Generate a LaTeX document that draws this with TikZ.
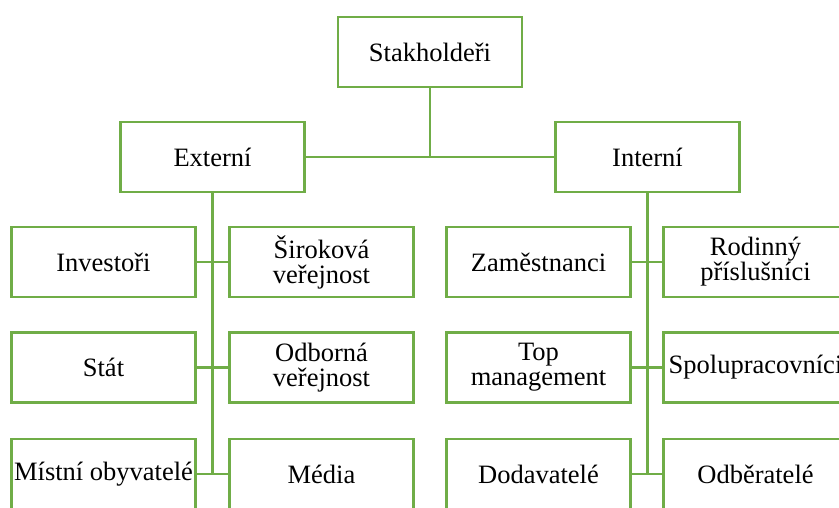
\documentclass[tikz,border=0pt]{standalone}
\usepackage{fontspec}
\setmainfont{Liberation Serif}
\usepackage{xcolor}
\definecolor{stakegreen}{RGB}{112,173,71}

\begin{document}
\begin{tikzpicture}[x=1pt,y=-1pt,
    box/.style={draw=stakegreen,fill=white,line width=2.8pt,minimum width=184pt,minimum height=70pt,
        inner sep=0pt,align=center,font=\fontsize{26.5}{25}\selectfont},
    link/.style={stakegreen,line width=2.6pt}]
    \clip (0,0) rectangle (839,507);

    \node[box] (stak) at (430,52) {Stakholdeři};
    \node[box] (ext) at (212.5,157) {Externí};
    \node[box] (int) at (647.5,157) {Interní};

    \node[box] (inv) at (103.5,262) {Investoři};
    \node[box] (sir) at (321.5,262) {Široková\\veřejnost};
    \node[box] (stat) at (103.5,367.5) {Stát};
    \node[box] (odb) at (321.5,367.5) {Odborná\\veřejnost};
    \node[box] (mist) at (103.5,474) {Místní obyvatelé};
    \node[box] (med) at (321.5,474) {Média};

    \node[box] (zam) at (538.5,262) {Zaměstnanci};
    \node[box] (rod) at (755.5,262) {Rodinný\\příslušníci};
    \node[box] (top) at (538.5,367.5) {Top\\management};
    \node[box] (spol) at (755.5,367.5) {Spolupracovníci};
    \node[box] (dod) at (538.5,474) {Dodavatelé};
    \node[box] (odbe) at (755.5,474) {Odběratelé};

    % top level
    \draw[link] (ext.east) -- (int.west);
    \draw[link] (stak.south) -- (stak.south |- ext.east);

    % external branch
    \draw[link] (ext.south) -- (ext.south |- mist.east);
    \draw[link] (inv.east) -- (sir.west);
    \draw[link] (stat.east) -- (odb.west);
    \draw[link] (mist.east) -- (med.west);

    % internal branch
    \draw[link] (int.south) -- (int.south |- dod.east);
    \draw[link] (zam.east) -- (rod.west);
    \draw[link] (top.east) -- (spol.west);
    \draw[link] (dod.east) -- (odbe.west);
\end{tikzpicture}
\end{document}
